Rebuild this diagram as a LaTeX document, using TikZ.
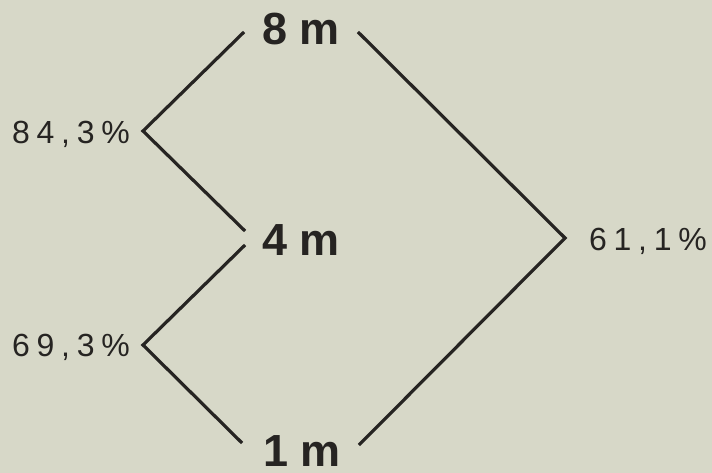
\documentclass[tikz,border=0pt]{standalone}
\usepackage{fontspec}
\setmainfont{Liberation Sans}
\definecolor{bg}{RGB}{215,216,200}
\definecolor{ink}{RGB}{38,36,34}
\begin{document}
\begin{tikzpicture}[x=1pt,y=-1pt,
  level/.style={font=\fontsize{45}{54}\selectfont\bfseries, text=ink, inner sep=0pt},
  pct/.style={font=\fontsize{32}{38}\selectfont\addfontfeature{LetterSpace=21}, text=ink, inner sep=0pt},
  link/.style={draw=ink, line width=3.2pt, line join=miter}]
\fill[bg] (0,0) rectangle (712,473);
\useasboundingbox (0,0) rectangle (712,473);
% level nodes
\node[level] (n8) at (301,29) {8 m};
\node[level] (n4) at (301,240) {4 m};
\node[level] (n1) at (302,451) {1 m};
% vertices
\coordinate (v84) at (143,131);
\coordinate (v69) at (143,345);
\coordinate (v61) at (565,238);
% labels
\node[pct, anchor=east] (l84) at (130,134) {84,3\%};
\node[pct, anchor=east] (l69) at (130,347) {69,3\%};
\node[pct, anchor=west] (l61) at (589,241) {61,1\%};
% connectors
\draw[link] ([xshift=-18pt,yshift=-3pt]n8.west) -- (v84) -- ([xshift=-17pt,yshift=9pt]n4.west);
\draw[link] ([xshift=-17pt,yshift=-5pt]n4.west) -- (v69) -- ([xshift=-21pt,yshift=8pt]n1.west);
\draw[link] ([xshift=18pt,yshift=-3pt]n8.east) -- (v61) -- ([xshift=18pt,yshift=6pt]n1.east);
\end{tikzpicture}
\end{document}
